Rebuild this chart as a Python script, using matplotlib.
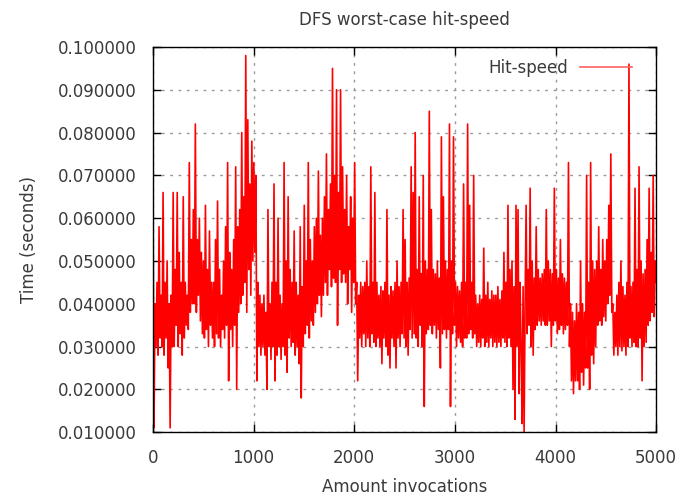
import numpy as np
import matplotlib.pyplot as plt

# worst-case hit time per invocation, in milliseconds, 10 samples per 100 invocations
hit_ms = [
    65, 11, 40, 30, 45, 28, 58, 32, 42, 30,
    66, 28, 45, 32, 50, 25, 40, 11, 42, 30,
    66, 30, 48, 35, 66, 30, 52, 33, 45, 28,
    65, 32, 45, 35, 42, 34, 73, 38, 55, 40,
    62, 40, 82, 38, 55, 42, 60, 36, 52, 33,
    50, 32, 63, 34, 48, 30, 57, 35, 45, 32,
    45, 30, 55, 33, 64, 32, 48, 30, 42, 34,
    50, 32, 58, 35, 73, 22, 52, 34, 48, 30,
    55, 35, 72, 20, 58, 38, 62, 40, 80, 42,
    65, 45, 98, 38, 83, 48, 68, 42, 78, 50,
    73, 52, 70, 22, 45, 30, 42, 28, 40, 30,
    42, 28, 38, 20, 62, 30, 40, 27, 45, 30,
    68, 22, 45, 28, 60, 30, 42, 27, 40, 30,
    73, 28, 50, 24, 65, 32, 48, 30, 45, 31,
    57, 28, 45, 30, 42, 26, 58, 18, 44, 30,
    63, 33, 50, 35, 73, 32, 55, 36, 50, 35,
    58, 38, 60, 40, 71, 42, 56, 37, 60, 42,
    65, 45, 75, 42, 62, 48, 68, 44, 95, 46,
    70, 45, 90, 35, 66, 48, 90, 45, 72, 47,
    62, 45, 70, 40, 58, 48, 65, 38, 60, 45,
    73, 40, 45, 22, 42, 32, 45, 30, 44, 33,
    45, 30, 50, 32, 44, 30, 72, 33, 45, 31,
    66, 30, 45, 32, 42, 30, 44, 26, 43, 32,
    45, 30, 62, 28, 42, 25, 44, 32, 43, 30,
    45, 25, 50, 32, 44, 30, 45, 33, 62, 32,
    55, 30, 45, 28, 46, 34, 72, 32, 66, 33,
    80, 32, 48, 30, 65, 35, 47, 30, 70, 16,
    50, 33, 48, 34, 85, 35, 62, 33, 48, 35,
    47, 32, 50, 34, 46, 25, 79, 33, 65, 34,
    50, 32, 48, 34, 82, 16, 50, 33, 79, 35,
    45, 30, 44, 32, 43, 31, 45, 30, 68, 32,
    45, 32, 82, 33, 63, 34, 45, 32, 70, 33,
    42, 30, 40, 31, 42, 30, 41, 32, 53, 30,
    42, 31, 45, 30, 41, 32, 43, 30, 42, 31,
    42, 30, 44, 31, 41, 30, 43, 32, 52, 31,
    45, 30, 63, 32, 48, 30, 50, 20, 44, 13,
    63, 30, 62, 19, 45, 30, 12, 44, 10, 40,
    63, 33, 48, 35, 67, 30, 50, 28, 46, 34,
    58, 35, 48, 36, 46, 35, 47, 36, 48, 35,
    62, 35, 50, 36, 48, 30, 47, 35, 67, 36,
    48, 33, 46, 34, 55, 35, 47, 33, 46, 34,
    45, 35, 73, 30, 40, 22, 38, 19, 36, 22,
    40, 22, 38, 20, 50, 24, 40, 21, 38, 25,
    70, 25, 45, 20, 73, 28, 50, 26, 48, 30,
    50, 35, 58, 36, 48, 35, 55, 37, 50, 36,
    55, 40, 63, 42, 75, 38, 40, 28, 38, 30,
    42, 28, 45, 30, 50, 29, 44, 30, 42, 28,
    45, 30, 96, 32, 44, 30, 45, 31, 67, 30,
    48, 30, 72, 32, 50, 22, 47, 30, 48, 31,
    55, 35, 67, 36, 52, 38, 70, 37, 50, 45,
]
y_ticks = [0.01, 0.02, 0.03, 0.04, 0.05, 0.06, 0.07, 0.08, 0.09, 0.10]
x_ticks = [0, 1000, 2000, 3000, 4000, 5000]

hits = np.array(hit_ms) / 1000.0
invocations = np.linspace(0, 5000, len(hits))

plt.rcParams['font.family'] = 'DejaVu Sans'
txt = '#3a3a3a'

fig = plt.figure(figsize=(6.8, 4.95), dpi=100)
ax = fig.add_axes([0.225, 0.127, 0.74, 0.778])
ax.plot(invocations, hits, color='red', lw=1.2, label='Hit-speed')

ax.set_xlim(0, 5000)
ax.set_ylim(0.01, 0.1)
ax.set_xticks(x_ticks)
ax.set_yticks(y_ticks)
ax.set_yticklabels(['%.6f' % v for v in y_ticks])
ax.tick_params(direction='in', length=6, width=1, top=True, right=True,
               labelsize=12, labelcolor=txt, pad=12)
ax.grid(True, color='#999999', ls=(0, (2, 4)), lw=1)
for s in ax.spines.values():
    s.set_linewidth(1)

ax.set_title('DFS worst-case hit-speed', fontsize=12, color=txt, pad=16)
ax.set_xlabel('Amount invocations', fontsize=12, color=txt, labelpad=8)
ax.set_ylabel('Time (seconds)', fontsize=12, color=txt, labelpad=14)

leg = ax.legend(loc='upper right', frameon=False, markerfirst=False,
                handlelength=3.1, handletextpad=0.7, fontsize=12,
                borderaxespad=0.3, bbox_to_anchor=(0.975, 1.0))
for t in leg.get_texts():
    t.set_color(txt)
leg.get_lines()[0].set_color('#ff6060')

fig.savefig('out.png', dpi=100)
